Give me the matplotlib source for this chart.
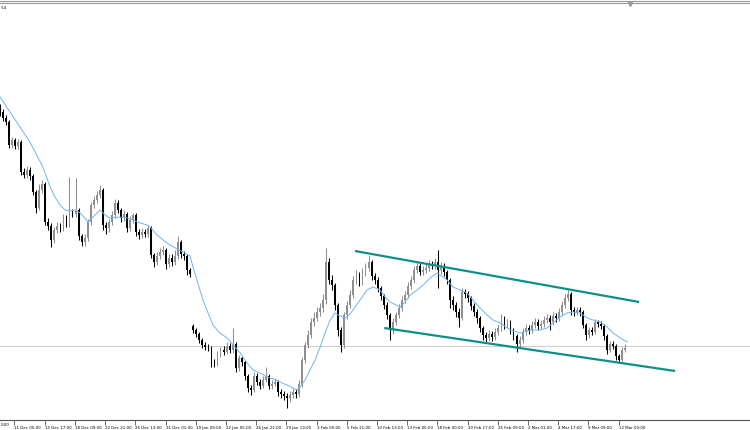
import numpy as np
import matplotlib.pyplot as plt

# price in points above the chart floor, one bar every slot
first_open = 313
gap_index = 64
gap_open = 94

close_pts = [308, 302, 298, 275, 280, 274, 278, 248, 245, 250,
             244, 228, 212, 230, 236, 198, 194, 180, 190, 194,
             192, 202, 196, 208, 206, 210, 184, 178, 182, 198,
             215, 220, 225, 230, 195, 192, 198, 205, 217, 210,
             202, 206, 192, 200, 205, 188, 185, 188, 186, 192,
             165, 158, 164, 168, 170, 156, 162, 158, 164, 178,
             166, 164, 150, 146, 90, 86, 80, 75, 73, 72,
             58, 56, 66, 70, 68, 74, 70, 76, 52, 62,
             58, 44, 32, 30, 44, 38, 34, 40, 44, 34,
             36, 38, 28, 26, 24, 22, 25, 28, 26, 36,
             60, 75, 85, 98, 102, 108, 112, 120, 158, 140,
             135, 115, 90, 75, 105, 115, 125, 140, 145, 138,
             148, 152, 158, 144, 140, 132, 124, 115, 105, 90,
             98, 105, 112, 120, 125, 134, 140, 150, 154, 148,
             150, 152, 156, 154, 158, 150, 154, 148, 140, 120,
             115, 108, 102, 128, 126, 122, 114, 108, 102, 92,
             85, 82, 86, 83, 88, 92, 102, 95, 98, 90,
             84, 76, 80, 88, 92, 90, 95, 98, 94, 96,
             100, 102, 98, 104, 102, 108, 115, 122, 126, 110,
             108, 110, 108, 95, 85, 90, 88, 98, 96, 94,
             84, 70, 76, 74, 64, 60, 70, 72]

high_pts = [316, 311, 305, 300, 283, 282, 281, 280, 252, 254,
            253, 246, 230, 236, 240, 238, 202, 197, 193, 198,
            197, 206, 205, 243, 211, 242, 212, 186, 186, 201,
            218, 224, 229, 235, 232, 198, 201, 209, 221, 220,
            212, 210, 208, 204, 207, 207, 191, 192, 191, 195,
            194, 167, 168, 172, 174, 172, 166, 166, 170, 184,
            180, 169, 166, 152, 96, 92, 88, 82, 78, 76,
            74, 61, 69, 73, 74, 78, 77, 92, 78, 65,
            64, 60, 46, 35, 48, 47, 41, 44, 53, 46,
            40, 42, 40, 31, 29, 27, 29, 32, 31, 40,
            63, 78, 90, 102, 108, 113, 117, 126, 172, 162,
            145, 137, 117, 93, 108, 119, 130, 144, 150, 148,
            152, 157, 165, 160, 147, 143, 134, 126, 118, 107,
            102, 108, 116, 124, 129, 138, 144, 154, 158, 157,
            154, 156, 160, 159, 162, 170, 158, 157, 150, 142,
            124, 118, 112, 132, 131, 129, 124, 117, 111, 104,
            94, 88, 90, 89, 92, 96, 106, 104, 101, 100,
            92, 86, 84, 92, 96, 95, 99, 102, 101, 100,
            104, 106, 105, 108, 107, 112, 119, 126, 130, 128,
            113, 113, 113, 110, 97, 93, 93, 101, 100, 99,
            96, 86, 79, 79, 76, 66, 73, 76]

low_pts = [304, 299, 295, 272, 272, 271, 271, 245, 242, 242,
           240, 225, 207, 210, 227, 195, 190, 173, 177, 187,
           188, 189, 193, 193, 203, 203, 180, 174, 174, 179,
           195, 212, 217, 222, 190, 186, 188, 195, 202, 207,
           198, 199, 188, 189, 197, 184, 181, 182, 183, 183,
           162, 153, 155, 161, 165, 151, 153, 154, 155, 161,
           162, 160, 145, 143, 87, 83, 77, 72, 70, 69,
           53, 53, 54, 63, 65, 66, 67, 67, 48, 49,
           54, 40, 28, 25, 28, 35, 31, 32, 38, 31,
           31, 34, 24, 22, 20, 12, 18, 22, 22, 23,
           33, 57, 72, 82, 94, 99, 104, 108, 116, 136,
           130, 110, 84, 68, 72, 101, 112, 122, 136, 134,
           135, 144, 149, 140, 136, 128, 120, 111, 101, 80,
           86, 95, 102, 109, 117, 122, 131, 137, 147, 145,
           145, 147, 149, 151, 151, 132, 146, 144, 136, 112,
           110, 103, 93, 100, 122, 118, 110, 104, 97, 88,
           80, 78, 79, 79, 80, 85, 89, 91, 92, 86,
           80, 68, 73, 77, 85, 86, 87, 92, 90, 91,
           93, 97, 90, 95, 98, 99, 105, 112, 119, 105,
           104, 105, 104, 92, 80, 82, 85, 86, 93, 91,
           80, 66, 68, 71, 60, 57, 58, 68]

# moving average
ma_bar = [0, 3.3, 6.6, 9.9, 14.2, 16.6, 18.2, 19.9, 21.5, 23.2,
          24.8, 26.5, 28.1, 29.1, 30.5, 32.1, 33.1, 34.8, 36.4, 39.7,
          42, 44, 46.4, 48.7, 49.7, 52, 54, 56.3, 58.6, 60.6,
          62.9, 63.9, 67.2, 68.5, 70.5, 72.8, 75.2, 77.2, 79.5, 81.8,
          83.8, 86.1, 88.4, 90.4, 92.7, 95, 97, 98.3, 99.3, 101,
          102.6, 104.3, 106, 107.6, 109.3, 110.9, 112.6, 114.2, 115.9, 119.2,
          121.5, 123.5, 125.8, 127.5, 129.1, 132.5, 134.1, 135.8, 138.1, 140.1,
          142.4, 144.7, 146.7, 148, 150, 152.3, 154.6, 156.6, 158.9, 161.3,
          163.2, 165.6, 168.9, 172.2, 175.5, 178.8, 181.1, 183.1, 185.4, 187.7,
          189.7, 192, 194.4, 196.4, 198.7, 201, 203, 205.3, 207.6]
ma_pts = [323, 308, 293, 278, 253, 233, 223, 215, 210, 209,
          210, 207, 202, 198, 202, 207, 210, 205, 202, 203,
          202, 200, 197, 195, 193, 185, 180, 175, 171, 168,
          164, 153, 120, 110, 95, 87, 82, 75, 67, 57,
          50, 47, 43, 41, 38, 35, 32, 30, 33, 40,
          50, 60, 73, 87, 100, 107, 104, 102, 106, 120,
          130, 133, 130, 123, 118, 113, 118, 125, 130, 135,
          142, 147, 143, 140, 133, 130, 127, 120, 112, 105,
          100, 97, 90, 87, 90, 90, 92, 97, 103, 107,
          108, 107, 102, 100, 98, 93, 87, 82, 78]

# channel trendlines and bid line
upper_bar = [117.5, 211.6]
upper_pts = [169, 118]
lower_bar = [127.2, 223.5]
lower_pts = [92, 49]
bid_pts = 74

tick_labels = ['11 Dec 05:00', '15 Dec 17:00', '18 Dec 09:00',
               '22 Dec 21:00', '26 Dec 13:00', '31 Dec 01:00', '19 Jan 09:00',
               '22 Jan 05:00', '26 Jan 21:00', '29 Jan 13:00', '3 Feb 05:00',
               '5 Feb 21:00', '10 Feb 13:00', '13 Feb 05:00', '18 Feb 00:00',
               '20 Feb 17:00', '25 Feb 09:00', '2 Mar 01:00', '4 Mar 17:00',
               '9 Mar 09:00', '12 Mar 00:00']
# what is left of the label just off the left edge, and of the price scale
cut_time_label = '0:00'
cut_price_label = '.54'

closes = np.array(close_pts, dtype=float)
opens = np.concatenate([[first_open], closes[:-1]])
opens[gap_index] = gap_open
highs = np.array(high_pts, dtype=float)
lows = np.array(low_pts, dtype=float)
x = np.arange(len(closes))

fig = plt.figure(figsize=(7.5, 4.3), dpi=100)
ax = fig.add_axes([0, 10 / 430, 1, 417 / 430])

up = closes >= opens
colors = np.where(up, '#8f8f8f', '#000000')
ax.vlines(x, lows, highs, colors=colors, lw=0.75)
body = np.maximum(np.abs(closes - opens), 0.8)
ax.bar(x, body, bottom=np.minimum(opens, closes), width=0.6, color=colors, lw=0)

ax.axhline(bid_pts, color='#cfcfcf', lw=0.8, zorder=0)
ax.plot(ma_bar, ma_pts, color='#6eb4f5', lw=0.7)
ax.plot(upper_bar, upper_pts, color='#0e8f88', lw=1.6, solid_capstyle='butt')
ax.plot(lower_bar, lower_pts, color='#0e8f88', lw=1.6, solid_capstyle='butt')

for s in ['left', 'right']:
    ax.spines[s].set_visible(False)
ax.spines['top'].set_color('#9a9a9a')
ax.spines['bottom'].set_color('#555555')
ax.spines['bottom'].set_linewidth(0.8)

ax.set_yticks([])
ax.set_xticks([4.8 + 10 * k for k in range(len(tick_labels))])
ax.set_xticklabels(tick_labels, fontsize=2.9, ha='left')
ax.tick_params(axis='x', length=3.5, width=0.6, color='#555555', pad=0.5)

ax.set_xlim(0, 248.3)
ax.set_ylim(0, 417)

# double frame line at the top and the chart shift marker
fig.add_artist(plt.Line2D([0, 1], [1 - 1 / 430, 1 - 1 / 430], color='#9a9a9a', lw=0.8))
fig.add_artist(plt.Line2D([630 / 750], [1 - 4 / 430], marker='v', color='#9a9a9a', ms=3, lw=0))
fig.text(0.5 / 750, 1 - 8 / 430, cut_price_label, fontsize=2.9, ha='left', va='center')
fig.text(0.5 / 750, 4.5 / 430, cut_time_label, fontsize=2.9, ha='left', va='center')

fig.savefig('out.png', dpi=100)
